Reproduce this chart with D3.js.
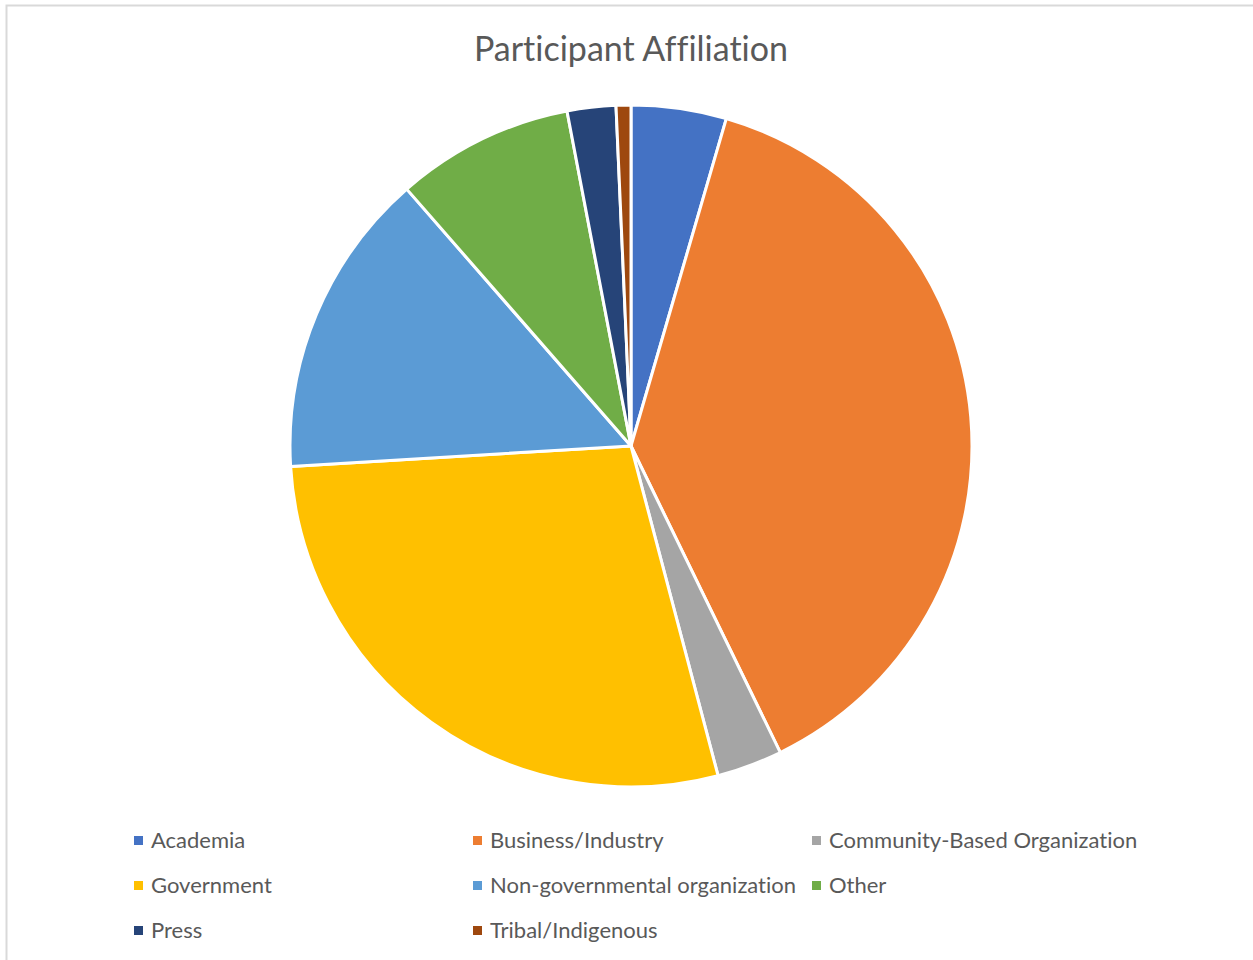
<!DOCTYPE html>
<html>
<head>
<meta charset="utf-8">
<script src="https://cdn.jsdelivr.net/npm/d3@7"></script>
<style>
  body { margin: 0; background: #fff; }
  text { font-family: Lato, "Noto Sans", sans-serif; fill: #595959; font-variant-ligatures: none; }
</style>
</head>
<body>
<svg></svg>
<script>
// affiliation categories and their share of participants (%)
const categories = ["Academia", "Business/Industry", "Community-Based Organization", "Government",
  "Non-governmental organization", "Other", "Press", "Tribal/Indigenous"]
const values = [4.5, 38.2, 3.1, 28.1, 14.5, 8.4, 2.3, 0.7]
const colors = ["#4472C4", "#ED7D31", "#A5A5A5", "#FFC000", "#5B9BD5", "#70AD47", "#264478", "#9E480E"]

const width = 1253
const height = 960

const svg = d3.select('svg')
  .attr('width', width)
  .attr('height', height)

// chart area border
svg.append("rect")
  .attr("x", 6.5)
  .attr("y", 5.5)
  .attr("width", width + 10)
  .attr("height", height + 10)
  .attr("fill", "none")
  .attr("stroke", "#d9d9d9")
  .attr("stroke-width", 2)

svg.append("text")
  .attr("x", 631)
  .attr("y", 61)
  .attr("text-anchor", "middle")
  .style("font-size", "34px")
  .text("Participant Affiliation")

var color = d3.scaleOrdinal().domain(categories).range(colors)

var data = categories.map((c, i) => ({ name: c, value: values[i] }))

var pie = d3.pie().sort(null).value(d => d.value)
var arc = d3.arc().innerRadius(0).outerRadius(341)

var g = svg.append("g")
  .attr("transform", "translate(631,446)")

g.selectAll("path")
  .data(pie(data))
  .enter().append("path")
    .attr("d", arc)
    .attr("fill", d => color(d.data.name))
    .attr("stroke", "white")
    .attr("stroke-width", 3)
    .attr("stroke-linejoin", "round")

// legend: 3 columns
var legend = svg.selectAll(".legend")
  .data(data)
  .enter().append("g")
    .attr("class", "legend")
    .attr("transform", function(d, i) {
      return "translate(" + (134 + (i % 3) * 339) + "," + (840 + Math.floor(i / 3) * 45) + ")"
    })

legend.append("rect")
  .attr("x", 0)
  .attr("y", -4)
  .attr("width", 9)
  .attr("height", 9)
  .attr("fill", d => color(d.name))

legend.append("text")
  .attr("x", 17)
  .attr("y", 0)
  .attr("dy", "0.35em")
  .style("font-size", "22px")
  .text(d => d.name)
</script>
</body>
</html>
